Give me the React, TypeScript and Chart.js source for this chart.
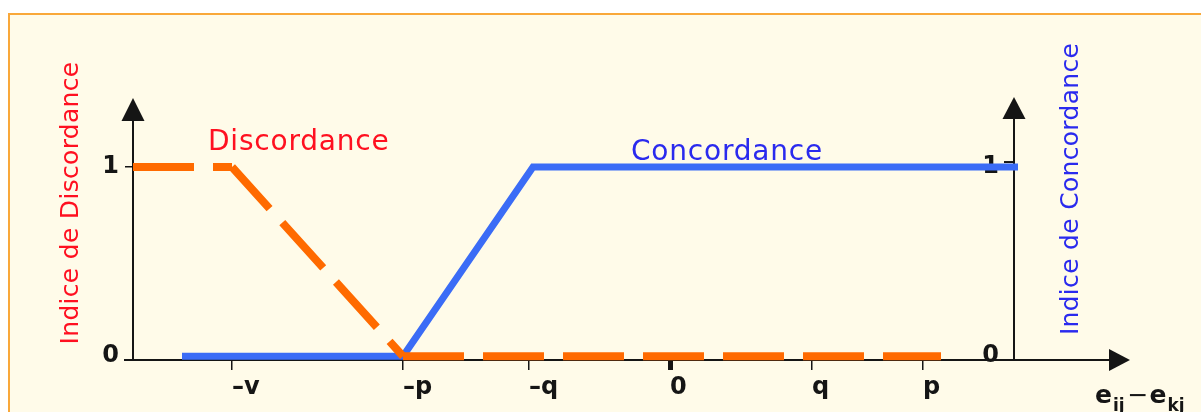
import React, { useEffect, useRef } from 'react';
import { Chart, registerables } from 'chart.js';

Chart.register(...registerables);

// ---- data ----
const discordanceX = [-5.37, -4.38, -2.67, 2.71];
const discordanceY = [1, 1, 0, 0];
const concordanceX = [-4.88, -2.67, -1.37, 3.48];
const concordanceY = [0, 0, 1, 1];
const xTickValues = [-4.38, -2.67, -1.41, 0, 1.42, 2.53];
const xTickLabels = ['–v', '–p', '–q', '0', 'q', 'p'];
const yTickValues = [0, 1];
const yTickLabels = ['0', '1'];
const xRange = [-5.37, 3.44];
const yRange = [-0.02, 1.365];
const seriesNames = ['Discordance', 'Concordance'];
const axisTitles = ['Indice de Discordance', 'Indice de Concordance'];

const FONT = '"DejaVu Sans", "Noto Sans", sans-serif';
const ORANGE = '#ff6a00';
const BLUE = '#3b6cf6';
const RED_TEXT = '#ff1020';
const BLUE_TEXT = '#2a2aee';
const INK = '#151515';

const dashOffsets = [0, 5, 0];

function drawLine(ctx: CanvasRenderingContext2D, x1: number, y1: number, x2: number, y2: number) {
  ctx.beginPath();
  ctx.moveTo(x1, y1);
  ctx.lineTo(x2, y2);
  ctx.stroke();
}

function tri(ctx: CanvasRenderingContext2D, pts: number[][]) {
  ctx.beginPath();
  ctx.moveTo(pts[0][0], pts[0][1]);
  ctx.lineTo(pts[1][0], pts[1][1]);
  ctx.lineTo(pts[2][0], pts[2][1]);
  ctx.closePath();
  ctx.fill();
}

const overlayPlugin = {
  id: 'overlay',
  beforeDatasetsDraw(chart: any) {
    const { ctx, chartArea: a, scales } = chart;
    const ys = scales.y;
    ctx.save();
    ctx.strokeStyle = INK;
    ctx.fillStyle = INK;
    ctx.lineWidth = 2;
    // x axis with arrow
    const xEnd = a.right + 116;
    drawLine(ctx, a.left - 9, a.bottom, xEnd - 10, a.bottom);
    tri(ctx, [[xEnd, a.bottom], [xEnd - 21, a.bottom - 11], [xEnd - 21, a.bottom + 11]]);
    // left y axis with arrow
    drawLine(ctx, a.left, a.bottom, a.left, a.top + 12);
    tri(ctx, [[a.left, a.top], [a.left - 11.5, a.top + 23], [a.left + 11.5, a.top + 23]]);
    // right y axis with arrow
    drawLine(ctx, a.right, a.bottom, a.right, a.top + 12);
    tri(ctx, [[a.right, a.top - 1], [a.right - 11.5, a.top + 21], [a.right + 11.5, a.top + 21]]);
    // right axis ticks and labels
    ctx.font = 'bold 24px ' + FONT;
    ctx.textAlign = 'right';
    ctx.textBaseline = 'middle';
    yTickValues.forEach((v, i) => {
      const py = ys.getPixelForValue(v);
      if (v !== 0) drawLine(ctx, a.right - 10, py - 5, a.right, py - 5);
      ctx.fillText(yTickLabels[i], a.right - 15, py);
    });
    ctx.restore();
  },
  afterDraw(chart: any) {
    const { ctx, chartArea: a } = chart;
    ctx.save();
    // series labels
    ctx.textAlign = 'left';
    ctx.textBaseline = 'alphabetic';
    ctx.font = '28px ' + FONT;
    try { (ctx as any).letterSpacing = '0.8px'; } catch (e) {}
    ctx.fillStyle = RED_TEXT;
    ctx.fillText(seriesNames[0], a.left + 75, a.top + 52);
    ctx.fillStyle = BLUE_TEXT;
    ctx.fillText(seriesNames[1], a.left + 498, a.top + 62);

    // vertical axis titles
    ctx.font = '25px ' + FONT;
    try { (ctx as any).letterSpacing = '0.3px'; } catch (e) {}
    ctx.textAlign = 'center';
    ctx.textBaseline = 'middle';
    ctx.fillStyle = RED_TEXT;
    ctx.save();
    ctx.translate(71, 203);
    ctx.rotate(-Math.PI / 2);
    ctx.fillText(axisTitles[0], 0, 0);
    ctx.restore();
    ctx.fillStyle = BLUE_TEXT;
    ctx.save();
    ctx.translate(a.right + 57, 189);
    ctx.rotate(-Math.PI / 2);
    ctx.fillText(axisTitles[1], 0, 0);
    ctx.restore();
    try { (ctx as any).letterSpacing = '0px'; } catch (e) {}

    // x axis title e_ij – e_kj
    ctx.fillStyle = INK;
    ctx.textAlign = 'left';
    ctx.textBaseline = 'alphabetic';
    let cx = a.right + 81;
    const base = a.bottom + 43;
    ctx.font = 'bold 25px ' + FONT;
    ctx.fillText('e', cx, base);
    cx += ctx.measureText('e').width;
    ctx.font = 'bold 17px ' + FONT;
    ctx.fillText('ij', cx + 1, base + 8);
    cx += ctx.measureText('ij').width + 4;
    ctx.font = '25px ' + FONT;
    ctx.fillText('−', cx, base);
    cx += ctx.measureText('−').width + 1;
    ctx.font = 'bold 25px ' + FONT;
    ctx.fillText('e', cx, base);
    cx += ctx.measureText('e').width;
    ctx.font = 'bold 17px ' + FONT;
    ctx.fillText('kj', cx + 1, base + 8);
    ctx.restore();
  },
};

export default function App() {
  const canvasRef = useRef<HTMLCanvasElement | null>(null);

  useEffect(() => {
    const canvas = canvasRef.current;
    if (!canvas) return;
    const chart = new Chart(canvas, {
      type: 'line',
      data: {
        datasets: [
          {
            label: seriesNames[0],
            data: discordanceX.map((x, i) => ({ x, y: discordanceY[i] })),
            borderColor: ORANGE,
            borderWidth: 8,
            borderDash: [61, 19],
            borderCapStyle: 'butt',
            pointRadius: 0,
            tension: 0,
            clip: false,
            segment: {
              borderDashOffset: (ctx: any) => dashOffsets[ctx.p0DataIndex] ?? 0,
            },
          } as any,
          {
            label: seriesNames[1],
            data: concordanceX.map((x, i) => ({ x, y: concordanceY[i] })),
            borderColor: BLUE,
            borderWidth: 7,
            pointRadius: 0,
            tension: 0,
            clip: false,
          } as any,
        ],
      },
      options: {
        responsive: false,
        devicePixelRatio: 1,
        animation: false,
        layout: { padding: { top: 98, right: 187, left: 0, bottom: 0 } },
        plugins: {
          legend: { display: false },
          tooltip: { enabled: false },
          title: { display: false },
        },
        scales: {
          x: {
            type: 'linear',
            min: xRange[0],
            max: xRange[1],
            afterBuildTicks: (scale: any) => {
              scale.ticks = xTickValues.map((v) => ({ value: v }));
            },
            afterFit: (scale: any) => {
              scale.height = 52;
            },
            border: { display: false },
            grid: {
              drawOnChartArea: false,
              drawTicks: true,
              tickLength: 10,
              color: INK,
              lineWidth: (ctx: any) => (ctx.tick && ctx.tick.value === 0 ? 5 : 1.5),
            },
            ticks: {
              autoSkip: false,
              maxRotation: 0,
              align: 'start',
              padding: 3,
              color: INK,
              font: { family: FONT, size: 24, weight: 'bold' },
              callback: (_v: any, i: number) => xTickLabels[i],
            },
          },
          y: {
            type: 'linear',
            position: 'left',
            min: yRange[0],
            max: yRange[1],
            afterBuildTicks: (scale: any) => {
              scale.ticks = yTickValues.map((v) => ({ value: v }));
            },
            afterFit: (scale: any) => {
              scale.width = 133;
            },
            border: { display: false },
            grid: {
              drawOnChartArea: false,
              drawTicks: true,
              tickLength: 8,
              color: (ctx: any) => (ctx.tick && ctx.tick.value === 0 ? 'rgba(0,0,0,0)' : INK),
              lineWidth: 1.5,
            },
            ticks: {
              padding: 6,
              color: INK,
              font: { family: FONT, size: 24, weight: 'bold' },
              callback: (_v: any, i: number) => yTickLabels[i],
            },
          },
        },
      } as any,
      plugins: [overlayPlugin as any],
    });
    return () => chart.destroy();
  }, []);

  return (
    <div
      style={{
        position: 'fixed',
        left: 0,
        top: 0,
        width: 1201,
        height: 412,
        overflow: 'hidden',
        background: '#ffffff',
      }}
    >
      <div
        style={{
          position: 'absolute',
          left: 8,
          top: 13,
          width: 1260,
          height: 460,
          border: '2px solid #f9a83a',
          background: '#fffbe9',
        }}
      />
      <canvas
        ref={canvasRef}
        width={1201}
        height={412}
        style={{ position: 'absolute', left: 0, top: 0, width: 1201, height: 412 }}
      />
    </div>
  );
}
